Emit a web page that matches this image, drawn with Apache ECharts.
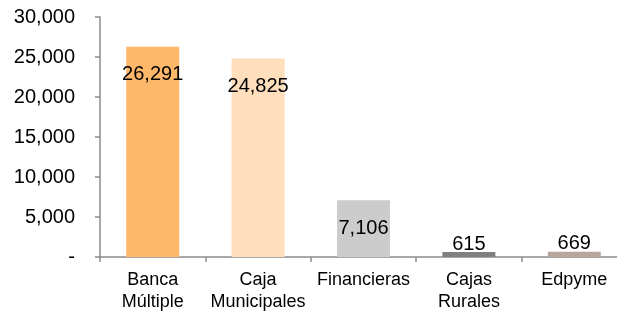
<!DOCTYPE html>
<html>
<head>
<meta charset="utf-8">
<script src="https://cdn.jsdelivr.net/npm/echarts@6/dist/echarts.min.js"></script>
<style>
  html, body { margin: 0; padding: 0; background: #fff; }
  #main { width: 617px; height: 311px; }
</style>
</head>
<body>
<div id="main"></div>
<script>
var categories = ['Banca\nMúltiple', 'Caja\nMunicipales', 'Financieras', 'Cajas\nRurales', 'Edpyme']
var values = [26291, 24825, 7106, 615, 669]
var barColors = ['#FFB869', '#FFDEBC', '#CCCCCC', '#808080', '#B8A59C']
var yTicks = [0, 5000, 10000, 15000, 20000, 25000, 30000]

function fmt (v) {
  if (v === 0) return '-'
  return String(v).replace(/\B(?=(\d{3})+(?!\d))/g, ',')
}

var myChart = echarts.init(document.getElementById('main'))
myChart.setOption({
  animation: false,
  grid: { left: 100, right: -10, top: 17, bottom: 54, outerBoundsMode: 'none', containLabel: false },
  xAxis: {
    type: 'category',
    data: categories,
    axisLine: { lineStyle: { color: '#8C8C8C', width: 1.5 } },
    axisTick: { show: true, length: 5, lineStyle: { color: '#8C8C8C', width: 1.5 } },
    axisLabel: {
      interval: 0,
      margin: 12,
      fontFamily: 'Liberation Sans, Arial',
      fontSize: 18,
      lineHeight: 22,
      color: '#000'
    }
  },
  yAxis: {
    type: 'value',
    min: yTicks[0],
    max: yTicks[yTicks.length - 1],
    interval: 5000,
    splitLine: { show: false },
    axisLine: { show: true, lineStyle: { color: '#8C8C8C', width: 1.5 } },
    axisTick: { show: true, length: 5, lineStyle: { color: '#8C8C8C', width: 1.5 } },
    axisLabel: {
      margin: 25,
      fontFamily: 'Liberation Sans, Arial',
      fontSize: 20,
      color: '#000',
      formatter: fmt
    }
  },
  series: [{
    type: 'bar',
    barWidth: 53,
    data: values.map(function (v, i) {
      var big = v > 5000
      return {
        value: v,
        itemStyle: { color: barColors[i] },
        label: big
          ? { position: 'insideTop', distance: 18 }
          : { position: 'top', distance: -2 }
      }
    }),
    label: {
      show: true,
      fontFamily: 'Liberation Sans, Arial',
      fontSize: 20,
      color: '#000',
      formatter: function (p) { return fmt(p.value) }
    }
  }]
})
</script>
</body>
</html>
